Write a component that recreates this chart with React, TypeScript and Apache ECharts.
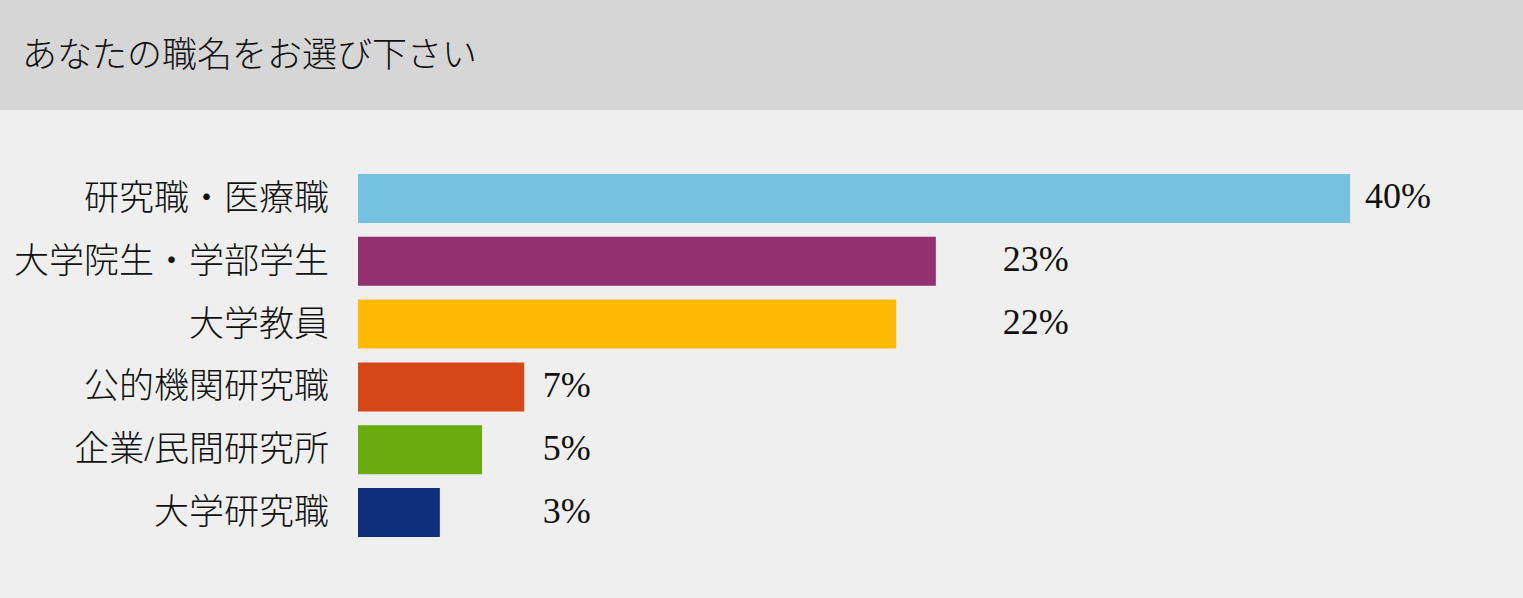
import React, { useEffect, useRef } from "react";
import * as echarts from "echarts";

const titleText = "あなたの職名をお選び下さい";
const categories = ["研究職・医療職", "大学院生・学部学生", "大学教員", "公的機関研究職", "企業/民間研究所", "大学研究職"];
const values = [40, 23.3, 21.7, 6.7, 5, 3.3];
const valueLabels = ["40%", "23%", "22%", "7%", "5%", "3%"];
const labelAnchors = [40.6, 26.0, 26.0, 7.45, 7.45, 7.45];
const colors = ["#76c0e0", "#93306f", "#ffb900", "#d64717", "#6aab0e", "#0c2e7b"];

const CJK = "'Liberation Serif', 'Noto Sans CJK JP', serif";

export default function App() {
  const ref = useRef<HTMLDivElement>(null);
  useEffect(() => {
    const chart = echarts.init(ref.current!, null, { renderer: "svg" });
    chart.setOption({
      animation: false,
      backgroundColor: "#efefef",
      graphic: [
        { type: "rect", left: 0, top: 0, shape: { x: 0, y: 0, width: 1523, height: 110 }, style: { fill: "#d6d6d6" }, z: -1 },
        { type: "text", left: 22, top: 38, style: { text: titleText, fontSize: 35, fontFamily: CJK, fontWeight: 300, fill: "#111" } },
      ],
      grid: { left: 358, right: 49, top: 167, bottom: 54, containLabel: false },
      xAxis: { type: "value", min: 0, max: 45, show: false },
      yAxis: {
        type: "category",
        data: categories,
        inverse: true,
        axisLine: { show: false },
        axisTick: { show: false },
        axisLabel: { fontSize: 35, fontFamily: CJK, fontWeight: 300, color: "#111", margin: 29 },
      },
      series: [
        {
          type: "bar",
          data: values.map((v, i) => ({ value: v, itemStyle: { color: colors[i] } })),
          barWidth: 49,
          z: 2,
        },
        {
          type: "bar",
          data: labelAnchors,
          barWidth: 49,
          barGap: "-100%",
          itemStyle: { color: "transparent" },
          silent: true,
          z: 1,
          label: {
            show: true,
            position: "right",
            distance: 0,
            offset: [0, -2],
            fontSize: 36,
            fontFamily: "'Liberation Serif', serif",
            color: "#111",
            formatter: (p: any) => valueLabels[p.dataIndex],
          },
        },
      ],
    });
    return () => chart.dispose();
  }, []);
  return <div ref={ref} style={{ position: "fixed", left: 0, top: 0, width: 1523, height: 598 }} />;
}
